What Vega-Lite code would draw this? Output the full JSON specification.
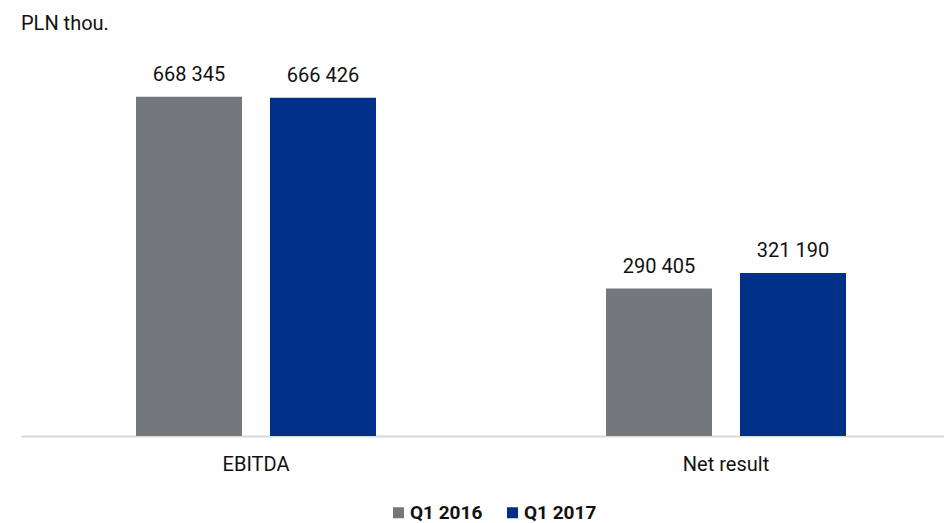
{
  "$schema": "https://vega.github.io/schema/vega-lite/v6.json",
  "width": 923,
  "height": 396,
  "autosize": {"type": "none"},
  "padding": {"left": 21, "top": 40, "right": 0, "bottom": 87},
  "background": "white",
  "title": {"text": "PLN thou.", "anchor": "start", "frame": "group", "baseline": "alphabetic", "offset": -10, "fontSize": 20, "fontWeight": "normal", "font": "Roboto", "color": "#111111"},
  "config": {
    "view": {"stroke": null},
    "font": "Roboto",
    "locale": {"number": {"decimal": ",", "thousands": " ", "grouping": [3], "currency": ["", ""]}}
  },
  "data": {"values": [
    {"category": "EBITDA", "period": "Q1 2016", "value": 668345},
    {"category": "EBITDA", "period": "Q1 2017", "value": 666426},
    {"category": "Net result", "period": "Q1 2016", "value": 290405},
    {"category": "Net result", "period": "Q1 2017", "value": 321190}
  ]},
  "encoding": {
    "x": {"field": "category", "type": "nominal", "sort": null,
      "scale": {"range": [0, 940], "paddingInner": 0.4894, "paddingOuter": 0.2447},
      "axis": {"title": null, "labelAngle": 0, "ticks": false, "tickSize": 0, "domainColor": "#d9d9d9", "domainWidth": 2, "labelFontSize": 20, "labelColor": "#111111", "labelBaseline": "alphabetic", "labelPadding": 34, "labelFont": "Roboto"}},
    "xOffset": {"field": "period", "type": "nominal", "scale": {"paddingInner": 0.209, "paddingOuter": 0}},
    "y": {"field": "value", "type": "quantitative", "scale": {"domain": [0, 780000], "nice": false}, "axis": null}
  },
  "layer": [
    {
      "mark": {"type": "bar"},
      "encoding": {
        "color": {"field": "period", "type": "nominal",
          "scale": {"domain": ["Q1 2016", "Q1 2017"], "range": ["#75787b", "#003087"]},
          "legend": {"title": null, "orient": "none", "direction": "horizontal", "legendX": 368, "legendY": 463, "symbolType": "square", "symbolSize": 121, "symbolStrokeWidth": 0, "symbolOpacity": 1, "labelFontSize": 19, "labelFontWeight": "bold", "labelColor": "#111111", "labelFont": "Roboto", "labelOffset": 2, "columnPadding": 20}}
      }
    },
    {
      "mark": {"type": "text", "baseline": "alphabetic", "dy": -16, "fontSize": 20, "color": "#111111", "font": "Roboto"},
      "encoding": {
        "text": {"field": "value", "type": "quantitative", "format": ",d"}
      }
    }
  ]
}
